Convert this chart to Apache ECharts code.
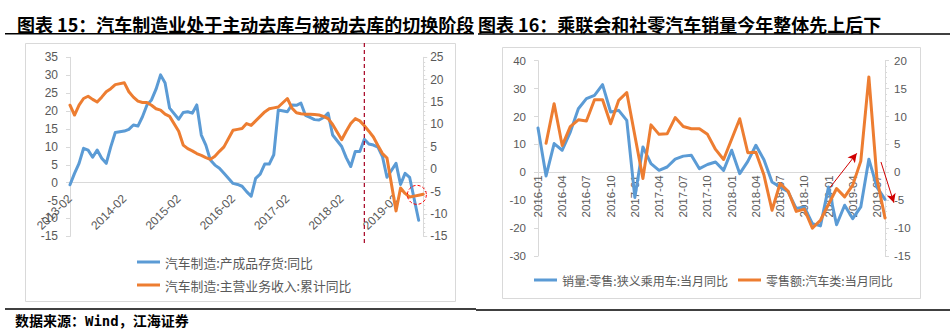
<!DOCTYPE html>
<html><head><meta charset="utf-8">
<script src="https://cdn.jsdelivr.net/npm/echarts@6/dist/echarts.min.js"></script>
<style>html,body{margin:0;padding:0;background:#fff}#c{width:952px;height:336px}</style>
</head><body><div id="c"></div>
<script>
// ---------- DATA ----------
const title15 = '图表 15：汽车制造业处于主动去库与被动去库的切换阶段';
const title16 = '图表 16：乘联会和社零汽车销量今年整体先上后下';
const sourceText = '数据来源：Wind，江海证券';

const name15a = '汽车制造:产成品存货:同比';
const name15b = '汽车制造:主营业务收入:累计同比';
const name16a = '销量:零售:狭义乘用车:当月同比';
const name16b = '零售额:汽车类:当月同比';

function monthRange(from, to) {
  const out = [];
  for (let y = 2013; y <= 2019; y++) for (let m = 1; m <= 12; m++) {
    const s = y + '-' + String(m).padStart(2, '0');
    if (s >= from && s <= to) out.push(s);
  }
  return out;
}
const cat15 = monthRange('2013-02', '2019-08');
const cat16 = monthRange('2016-01', '2019-08');

// 汽车制造:产成品存货:同比 (left axis)
const inv15 = [-0.6,2.6,5.4,9.6,9.1,7.1,9.1,6.8,5.4,10,14,null,
  14.4,14.9,16.1,15.8,18.4,21.7,23.1,26.1,30.1,27.8,20.8,null,
  17.7,19.6,19.8,19.4,21.7,13.3,10.5,6.3,4.9,4,2.6,null,
  -0.2,-0.5,-1,-2.5,-3.8,1.2,2.4,5.2,5.2,7.8,20.3,null,
  19.8,21.7,21.6,22.2,18.8,18.2,17.6,17.5,18.2,19.4,13.3,null,
  10.1,7,4.5,8.7,8.7,12.1,10.8,10.5,9.9,7.3,1.5,null,
  5.4,-0.5,2.6,1.5,-4.5,-10.5,null];
// 汽车制造:主营业务收入:累计同比 (right axis)
const rev15 = [14.3,12.1,14.3,15.8,16.3,15.6,15,16.1,17.3,18,18.9,null,
  19.3,17.3,16.1,15.2,14.9,14.9,14.3,13.5,13.2,12.3,11.8,null,
  8.5,5.4,4.6,4.1,3.5,3.1,2.6,2.2,2.9,4,5,null,
  8.7,8.9,9.1,10.2,9.8,10.8,11.8,12.8,13.5,13.7,13.9,null,
  15.8,13.7,12.6,12.4,12.3,12.3,12.2,12.1,11.8,11.3,10,null,
  6.6,8.5,10.2,11.3,10.8,9.7,8.5,7.2,5.3,3.5,2.5,null,
  -9.3,-4.2,-5.4,-6.2,-6,-5.8,-5.6];

// 销量:零售:狭义乘用车:当月同比 (left axis)
const sales16 = [15.9,-1.3,10.3,7.9,14.4,22.8,26.4,27.6,31.4,21.6,22.2,18.6,
  -9,9.1,3.1,0.7,1.9,4.7,5.8,6.1,1.3,2.8,3.7,0.7,
  7.9,-0.5,3.9,9.7,4.5,-3.5,-5.3,-7,-13,-12.4,-18.4,-19.2,
  -5.3,-18.8,-11.8,-16.6,-12.4,4.7,-5.3,-9.7];
// 零售额:汽车类:当月同比 (right axis)
const retail16 = [null,5.2,12.3,4.8,8.2,9.4,9.2,13,13,8.7,12.9,14.3,
  null,-1.1,8.5,6.8,6.9,9.8,8.2,7.8,7.8,6.8,4.1,2.3,
  null,9.6,3.5,3.6,-0.5,-6.8,-2,-3.4,-7,-6.6,-10,-8.6,
  null,-2.9,-4.4,-2.3,2.0,17.1,-1.1,-8.2];

// annotations (in data terms)
const guideMonth15 = '2018-07';
const circle15 = [76.6, -3.4];            // category index, left-axis value
const arrows16 = [[36.2, -5.4, 39.5, 6.8], [42.5, 3.7, 44.1, -10.9]]; // idx0,v0,idx1,v1 (left axis)

// ---------- STYLE ----------
const BLUE = '#5B9BD5', ORANGE = '#ED7D31', GRAY = '#595959', LINE = '#d9d9d9';
const NUMF = 'Liberation Sans, Arial, sans-serif';
const CJKF = 'Noto Sans CJK SC, sans-serif';

function yAxis(gridIndex, pos, min, max, interval, margin, fs, minor) {
  return {
    type: 'value', gridIndex, position: pos, min, max, interval,
    splitLine: { show: false },
    axisLine: { show: true, lineStyle: { color: LINE } },
    axisTick: { show: true, length: 4, lineStyle: { color: LINE } },
    minorTick: { show: !!minor, splitNumber: 5, length: 2, lineStyle: { color: LINE } },
    axisLabel: { color: GRAY, fontSize: fs, fontFamily: NUMF, margin }
  };
}
function lineSeries(id, name, xi, yi, data, color) {
  return {
    id, name, type: 'line', xAxisIndex: xi, yAxisIndex: yi, data,
    connectNulls: true, showSymbol: false, symbol: 'none',
    lineStyle: { color, width: 3, cap: 'round', join: 'round' },
    itemStyle: { color }, emphasis: { disabled: true }
  };
}

const option = {
  animation: false,
  title: [
    { text: title15, left: 17, top: 13, padding: 0,
      textStyle: { fontSize: 18, fontWeight: 'bold', color: '#000', fontFamily: CJKF, lineHeight: 22 } },
    { text: title16, left: 478, top: 13, padding: 0,
      textStyle: { fontSize: 18, fontWeight: 'bold', color: '#000', fontFamily: CJKF, lineHeight: 22 } },
    { text: sourceText, left: 15, top: 313, padding: 0,
      textStyle: { fontSize: 14, fontWeight: 'bold', color: '#000', fontFamily: 'DejaVu Sans Mono, Noto Sans CJK SC, monospace', lineHeight: 16 } }
  ],
  legend: [
    { data: [name15a, name15b], orient: 'vertical', left: 132, top: 250, itemGap: 9,
      itemWidth: 23, itemHeight: 3, icon: 'rect',
      textStyle: { color: GRAY, fontSize: 12.8, fontFamily: CJKF, lineHeight: 14 } },
    { data: [name16a, name16b], orient: 'horizontal', left: 529, top: 268, itemGap: 10,
      itemWidth: 23, itemHeight: 3, icon: 'rect',
      textStyle: { color: GRAY, fontSize: 12, fontFamily: CJKF, lineHeight: 14 } }
  ],
  grid: [
    { left: 70, top: 57.3, width: 353.2, height: 179.1 },
    { left: 538, top: 60.7, width: 347, height: 195.3 }
  ],
  xAxis: [
    { type: 'category', gridIndex: 0, data: cat15, boundaryGap: false,
      axisLine: { show: true, onZero: false, lineStyle: { color: LINE } },
      axisTick: { show: false },
      axisLabel: { interval: 11, rotate: 45, margin: 14, color: GRAY, fontSize: 12, fontFamily: NUMF } },
    { type: 'category', gridIndex: 1, data: cat16, boundaryGap: false,
      axisLine: { show: true, onZero: false, lineStyle: { color: LINE } },
      axisTick: { show: false },
      axisLabel: { interval: 2, rotate: 90, margin: 3, color: GRAY, fontSize: 11.5, fontFamily: NUMF } }
  ],
  yAxis: [
    yAxis(0, 'left', -15, 35, 5, 12, 12, false),
    yAxis(0, 'right', -15, 25, 5, 7, 12, true),
    yAxis(1, 'left', -30, 40, 10, 12, 11.5, false),
    yAxis(1, 'right', -15, 20, 5, 9, 11.5, true)
  ],
  series: [
    lineSeries('b15', name15a, 0, 0, inv15, BLUE),
    lineSeries('o15', name15b, 0, 1, rev15, ORANGE),
    lineSeries('b16', name16a, 1, 2, sales16, BLUE),
    lineSeries('o16', name16b, 1, 3, retail16, ORANGE)
  ]
};

const chart = echarts.init(document.getElementById('c'), null, { renderer: 'svg' });
chart.setOption(option);

// ---------- positions derived through the library's scales ----------
function xAt(ai, cats, idx) {
  const a = chart.convertToPixel({ xAxisIndex: ai }, cats[0]);
  const b = chart.convertToPixel({ xAxisIndex: ai }, cats[1]);
  return a + (b - a) * idx;
}
function yAt(ai, v) { return chart.convertToPixel({ yAxisIndex: ai }, v); }

// move each category axis up to the left axis' zero line
const off15 = yAt(0, 0) - yAt(0, -15);
const off16 = yAt(2, 0) - yAt(2, -30);

const gx = chart.convertToPixel({ xAxisIndex: 0 }, guideMonth15);
const cx = xAt(0, cat15, circle15[0]), cy = yAt(0, circle15[1]);

const arrowData = arrows16.map(a => [
  { x: xAt(1, cat16, a[0]), y: yAt(2, a[1]) },
  { x: xAt(1, cat16, a[2]), y: yAt(2, a[3]) }
]);

chart.setOption({
  xAxis: [{ offset: off15 }, { offset: off16 }],
  graphic: [
    { type: 'rect', shape: { x: 25.5, y: 43.5, width: 430, height: 258 },
      style: { fill: 'none', stroke: LINE, lineWidth: 1 }, z: -1, silent: true },
    { type: 'rect', shape: { x: 502.5, y: 47.5, width: 418, height: 251 },
      style: { fill: 'none', stroke: LINE, lineWidth: 1 }, z: -1, silent: true },
    { type: 'line', shape: { x1: 5, y1: 33.8, x2: 474, y2: 33.8 }, style: { stroke: '#000', lineWidth: 1.5 }, silent: true },
    { type: 'line', shape: { x1: 478, y1: 34, x2: 950, y2: 34 }, style: { stroke: '#000', lineWidth: 1.5 }, silent: true },
    { type: 'line', shape: { x1: 5, y1: 309, x2: 476, y2: 309 }, style: { stroke: '#000', lineWidth: 1.5 }, silent: true },
    { type: 'line', shape: { x1: 476, y1: 310, x2: 950, y2: 310 }, style: { stroke: '#000', lineWidth: 1.5 }, silent: true },
    { type: 'line', shape: { x1: gx, y1: 43, x2: gx, y2: 243 },
      style: { stroke: '#A50021', lineWidth: 1.2, lineDash: [4, 3] }, z: 10, silent: true },
    { type: 'circle', shape: { cx, cy, r: 9.5 },
      style: { fill: 'none', stroke: '#FF0000', lineWidth: 1, lineDash: [3, 2] }, z: 10, silent: true }
  ],
  series: [{
    id: 'b16',
    markLine: {
      silent: true, symbol: ['none', 'arrow'], symbolSize: [7, 9],
      label: { show: false },
      lineStyle: { color: '#D00000', width: 1, type: 'solid' },
      emphasis: { disabled: true },
      data: arrowData
    }
  }]
});
</script>
</body></html>
